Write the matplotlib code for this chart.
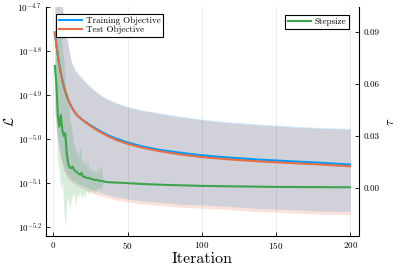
import numpy as np
import matplotlib
matplotlib.use("Agg")
import matplotlib.pyplot as plt
from matplotlib.ticker import FixedLocator, FuncFormatter

plt.rcParams['font.family'] = ['cmr10', 'DejaVu Sans']
plt.rcParams['mathtext.fontset'] = 'cm'
plt.rcParams['axes.formatter.use_mathtext'] = True
plt.rcParams['axes.unicode_minus'] = False

# objective curves (log10 values)
obj_x = [1, 2, 3, 4, 5, 6, 7, 8, 10, 12, 14, 16, 19, 22, 25, 28, 32, 37, 43, 50,
         60, 72, 85, 100, 117, 139, 162, 180, 200]
train_mean = [-4.758, -4.786, -4.810, -4.832, -4.850, -4.866, -4.880, -4.892, -4.911, -4.926,
              -4.937, -4.946, -4.955, -4.962, -4.969, -4.975, -4.983, -4.992, -5.000, -5.008,
              -5.017, -5.025, -5.031, -5.037, -5.042, -5.047, -5.051, -5.054, -5.058]
test_mean = [-4.758, -4.786, -4.810, -4.832, -4.850, -4.866, -4.880, -4.892, -4.911, -4.926,
             -4.937, -4.946, -4.955, -4.963, -4.970, -4.977, -4.985, -4.994, -5.003, -5.011,
             -5.020, -5.028, -5.035, -5.041, -5.046, -5.051, -5.055, -5.058, -5.062]
train_upper = [-4.600, -4.620, -4.640, -4.660, -4.680, -4.695, -4.725, -4.752, -4.786, -4.823,
               -4.839, -4.849, -4.860, -4.871, -4.881, -4.890, -4.900, -4.910, -4.918, -4.926,
               -4.934, -4.941, -4.948, -4.955, -4.961, -4.966, -4.971, -4.974, -4.976]
train_lower = [-4.934, -4.968, -4.998, -5.020, -5.039, -5.052, -5.064, -5.073, -5.084, -5.091,
               -5.095, -5.100, -5.105, -5.109, -5.114, -5.118, -5.123, -5.127, -5.132, -5.136,
               -5.141, -5.144, -5.148, -5.150, -5.153, -5.158, -5.161, -5.164, -5.165]
test_upper = [-4.602, -4.622, -4.642, -4.662, -4.682, -4.697, -4.727, -4.754, -4.788, -4.825,
              -4.841, -4.851, -4.862, -4.873, -4.883, -4.892, -4.902, -4.912, -4.920, -4.928,
              -4.936, -4.943, -4.950, -4.957, -4.963, -4.968, -4.973, -4.976, -4.978]
test_lower = [-4.941, -4.975, -5.005, -5.027, -5.046, -5.059, -5.071, -5.080, -5.091, -5.098,
              -5.102, -5.107, -5.112, -5.116, -5.121, -5.125, -5.130, -5.134, -5.139, -5.143,
              -5.148, -5.151, -5.155, -5.157, -5.160, -5.165, -5.168, -5.171, -5.172]

# stepsize
step_x = list(range(1, 35)) + [36, 40, 45, 50, 60, 75, 100, 125, 150, 175, 200]
step_mean = [0.0704, 0.0600, 0.0420, 0.0354, 0.0421, 0.0335, 0.0300, 0.0316, 0.0200, 0.0140,
             0.0118, 0.0114, 0.0123, 0.0104, 0.0098, 0.0090, 0.0082, 0.0076, 0.0088, 0.0066,
             0.0064, 0.0060, 0.0057, 0.0058, 0.0053, 0.0050, 0.0049, 0.0046, 0.0047, 0.0044,
             0.0042, 0.0041, 0.0040, 0.0038,
             0.0034, 0.0032, 0.0030, 0.0028, 0.0023, 0.0018, 0.0012, 0.0009, 0.0006, 0.0005, 0.0004]
band_x = list(range(1, 35))
step_upper = [0.0704, 0.085, 0.100, 0.090, 0.095, 0.080, 0.075, 0.060, 0.055, 0.050,
              0.040, 0.036, 0.030, 0.025, 0.022, 0.020, 0.018, 0.024, 0.017, 0.014,
              0.016, 0.012, 0.016, 0.011, 0.010, 0.012, 0.009, 0.010, 0.008, 0.012,
              0.008, 0.014, 0.007, 0.004]
step_lower = [0.0704, 0.035, 0.015, 0.010, -0.001, 0.004, -0.011, -0.023, -0.008, -0.005,
              -0.013, -0.006, -0.005, -0.003, -0.011, -0.004, -0.005, -0.002, -0.006, -0.003,
              -0.005, -0.002, -0.002, -0.004, -0.001, -0.003, -0.001, -0.003, 0.000, -0.001,
              0.001, -0.001, 0.002, 0.0038]

blue = '#009afa'
orange = '#e36f47'
green = '#3ea44e'

fig = plt.figure(figsize=(3.99, 2.66), dpi=100)
ax1 = fig.add_axes([0.1153, 0.1128, 0.7844, 0.8609])
ax2 = ax1.twinx()

ex = lambda v: 10 ** np.array(v)

ax1.fill_between(obj_x, ex(train_lower), ex(train_upper), color=blue, alpha=0.2, lw=0)
ax1.fill_between(obj_x, ex(test_lower), ex(test_upper), color=orange, alpha=0.2, lw=0)
l1, = ax1.plot(obj_x, ex(train_mean), color=blue, lw=1.5, label='Training Objective')
l2, = ax1.plot(obj_x, ex(test_mean), color=orange, lw=1.5, label='Test Objective')
ax1.set_yscale('log')
ax1.set_ylim(10 ** -5.2205, 10 ** -4.7)
ax1.set_xlim(-4.97, 205.97)

ax2.fill_between(band_x, step_lower, step_upper, color=green, alpha=0.2, lw=0)
l3, = ax2.plot(step_x, step_mean, color=green, lw=1.5, label='Stepsize')
ax2.set_ylim(-0.0277, 0.1044)

ax1.xaxis.set_major_locator(FixedLocator([0, 50, 100, 150, 200]))
ax1.yaxis.set_major_locator(FixedLocator([10 ** e for e in [-4.7, -4.8, -4.9, -5.0, -5.1, -5.2]]))
ax1.yaxis.set_minor_locator(FixedLocator([]))
ax1.yaxis.set_major_formatter(FuncFormatter(lambda v, p: r'$10^{%.1f}$' % np.log10(v)))
ax2.yaxis.set_major_locator(FixedLocator([0.0, 0.03, 0.06, 0.09]))
ax2.yaxis.set_major_formatter(FuncFormatter(lambda v, p: '%.2f' % v))

ax1.grid(axis='x', color='black', alpha=0.1, lw=0.5)
for ax in (ax1, ax2):
    ax.spines['top'].set_visible(False)
    ax.tick_params(direction='in', length=3, width=0.6, labelsize=6.5, pad=3)
    for s in ax.spines.values():
        s.set_linewidth(0.8)
ax2.spines['left'].set_visible(False)
ax2.spines['bottom'].set_visible(False)
ax1.spines['right'].set_visible(False)

ax1.set_xlabel('Iteration', fontsize=11.5, labelpad=1)
ax1.set_ylabel(r'$\mathcal{L}$', fontsize=9.5)
ax1.yaxis.set_label_coords(-0.094, 0.5)
ax2.set_ylabel(r'$\tau$', fontsize=9)
ax2.yaxis.set_label_coords(1.084, 0.5)

leg1 = ax2.legend(handles=[l1, l2], loc='upper left', bbox_to_anchor=(0.032, 0.97),
                  borderaxespad=0, fontsize=6.5, fancybox=False, edgecolor='black',
                  framealpha=1, handlelength=2.6, handletextpad=0.4, labelspacing=0.1,
                  borderpad=0.3)
leg1.get_frame().set_linewidth(0.8)
ax2.add_artist(leg1)
leg2 = ax2.legend(handles=[l3], loc='upper right', bbox_to_anchor=(0.968, 0.965),
                  borderaxespad=0, fontsize=6.5, fancybox=False, edgecolor='black',
                  framealpha=1, handlelength=2.6, handletextpad=0.4, borderpad=0.3)
leg2.get_frame().set_linewidth(0.8)

fig.savefig('out.png', dpi=100)
